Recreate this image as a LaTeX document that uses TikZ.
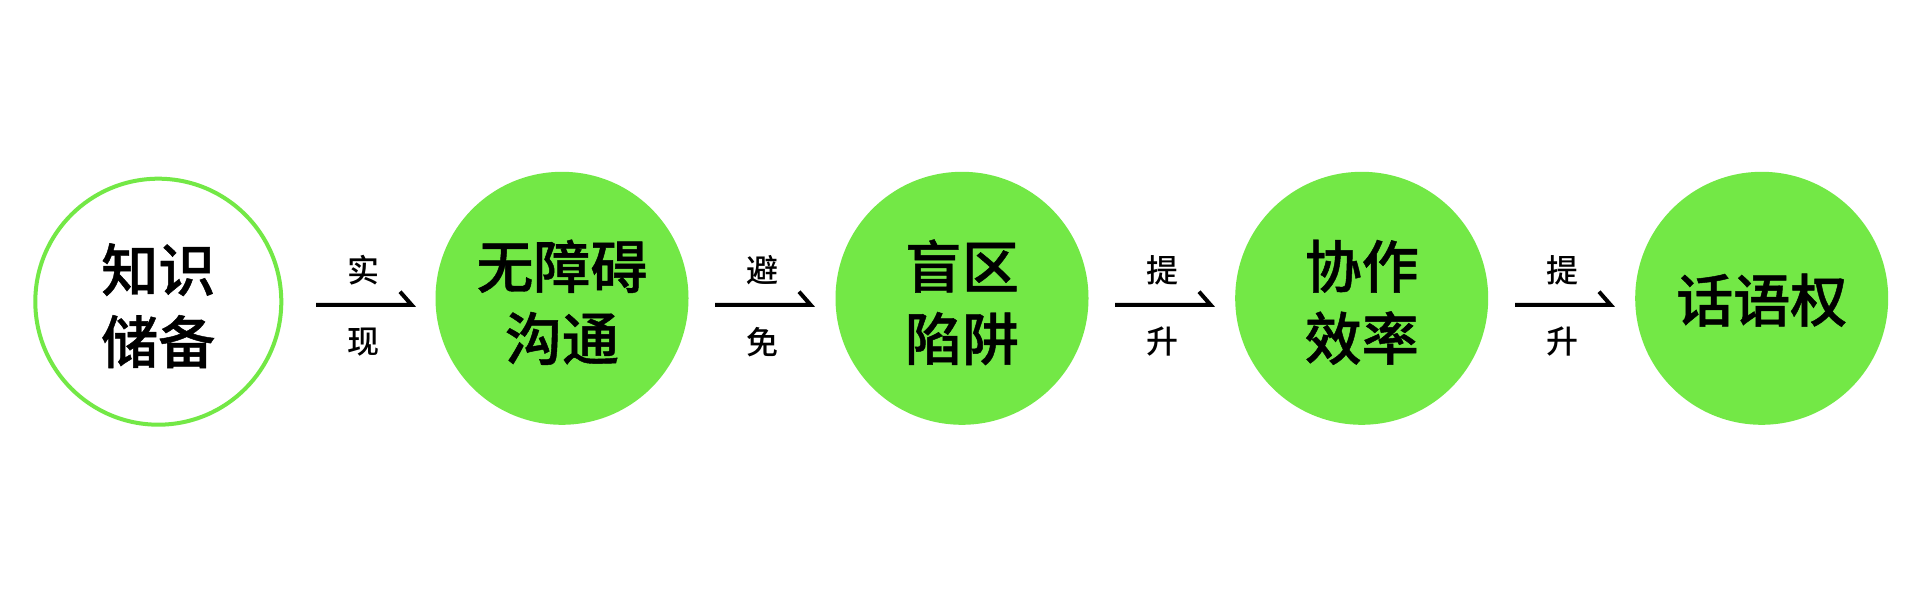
\documentclass[tikz,border=0pt]{standalone}
\usepackage{fontspec}
\newfontfamily\cjk{Noto Sans CJK SC}[UprightFont={* Medium}, BoldFont={* Bold}]
\newfontfamily\cjkh{Noto Sans CJK SC}[UprightFont={* Medium}, FakeBold=0.8]
\definecolor{lgreen}{RGB}{115,232,70}
\tikzset{
  gcirc/.style={circle, fill=lgreen, minimum size=253pt, inner sep=0pt},
  wcirc/.style={circle, draw=lgreen, line width=4pt, fill=white, minimum size=246pt, inner sep=0pt},
  ctext/.style={align=center, font=\cjkh\fontsize{57}{72}\selectfont, inner sep=0pt},
  lbl/.style={font=\cjk\fontsize{32}{36}\selectfont, inner sep=0pt},
  conn/.style={line width=4pt, line cap=butt, line join=miter}
}
\begin{document}
\begin{tikzpicture}[x=1pt,y=1pt]
\useasboundingbox[fill=white] (0,0) rectangle (1920,600);
\node[wcirc] (c1) at (158.3,298.3) {};
\node[gcirc] (c2) at (562,301.7) {};
\node[gcirc] (c3) at (962,301.7) {};
\node[gcirc] (c4) at (1361.7,301.7) {};
\node[gcirc] (c5) at (1761.7,301.7) {};
\node[ctext] (x1) at ([yshift=-4pt]c1.center) {知识\\储备};
\node[ctext] (x2) at ([yshift=-4pt]c2.center) {无障碍\\沟通};
\node[ctext] (x3) at ([yshift=-4pt]c3.center) {盲区\\陷阱};
\node[ctext] (x4) at ([yshift=-4pt]c4.center) {协作\\效率};
\node[ctext] (x5) at ([yshift=-2pt]c5.center) {话语权};
\foreach \i/\x/\a/\b in {1/316/实/现, 2/715/避/免, 3/1115/提/升, 4/1515/提/升}{
  \coordinate (s\i) at (\x,295);
  \coordinate (e\i) at (\x+95.7,295);
  \draw[conn] (s\i) -- (e\i) -- ++(-11.7,13.3);
  \node[lbl] (t\i) at (\x+47.5,330) {\a};
  \node[lbl] (b\i) at (\x+47.5,258.3) {\b};
}
\end{tikzpicture}
\end{document}
